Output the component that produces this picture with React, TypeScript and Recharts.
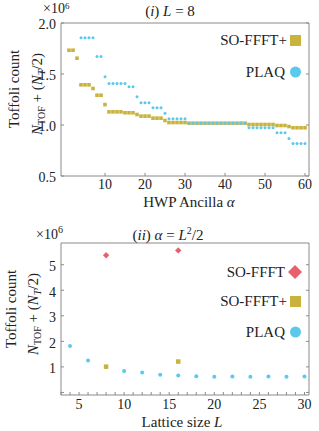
import React from "react";
import { ScatterChart, Scatter, XAxis, YAxis } from "recharts";

// ---------- data: panel (i) L = 8 ----------
const alphaSO = [1,2,3,4,5,6,7,8,9,10,11,12,13,14,15,16,17,18,19,20,21,22,23,24,25,26,27,28,29,30,31,32,33,34,35,36,37,38,39,40,41,42,43,44,45,46,47,48,49,50,51,52,53,54,55,56,57,58,59,60];
const soPlusTop = [1.733,1.733,1.655,1.394,1.394,1.394,1.358,1.292,1.292,1.2,1.129,1.129,1.129,1.129,1.12,1.12,1.12,1.103,1.087,1.087,1.087,1.067,1.067,1.067,1.044,1.024,1.024,1.024,1.024,1.024,1.018,1.018,1.018,1.018,1.018,1.018,1.018,1.018,1.018,1.018,1.018,1.018,1.018,1.018,1.018,1.005,1.005,1.005,1.005,1.005,1.005,1.005,0.995,0.995,0.995,0.985,0.973,0.973,0.973,0.973];
const alphaPlaq = [4,5,6,7,8,9,10,11,12,13,14,15,16,17,18,19,20,21,22,23,24,25,26,27,28,29,30,31,32,33,34,35,36,37,38,39,40,41,42,43,44,45,46,47,48,49,50,51,52,53,54,55,56,57,58,59,60];
const plaqTop = [1.855,1.855,1.855,1.855,1.672,1.672,1.472,1.407,1.407,1.407,1.407,1.407,1.374,1.374,1.276,1.218,1.218,1.218,1.169,1.169,1.169,1.116,1.061,1.061,1.061,1.061,1.061,1.018,1.018,1.018,1.018,1.018,1.018,1.018,1.018,1.018,1.018,1.018,1.018,1.018,1.018,1.018,0.973,0.973,0.973,0.973,0.973,0.973,0.973,0.924,0.924,0.924,0.868,0.819,0.819,0.819,0.819];
const topXTicks = [10, 20, 30, 40, 50, 60];
const topYTicks = [0.5, 1.0, 1.5, 2.0];
const topYLabels = ["0.5", "1.0", "1.5", "2.0"];

// ---------- data: panel (ii) alpha = L^2/2 ----------
const latticeL = [4,6,8,10,12,14,16,18,20,22,24,26,28,30];
const plaqBottom = [1.82,1.25,1.0,0.84,0.78,0.69,0.66,0.63,0.61,0.62,0.61,0.62,0.61,0.62];
const soPlusL = [8, 16];
const soPlusBottom = [1.01, 1.21];
const soL = [8, 16];
const soBottom = [5.37, 5.56];
const botXTicks = [3,4,5,6,7,8,9,10,11,12,13,14,15,16,17,18,19,20,21,22,23,24,25,26,27,28,29,30];
const botXLabelTicks = [5, 10, 15, 20, 25, 30];
const botYTicks = [0, 1, 2, 3, 4, 5];
const botYLabelTicks = [1, 2, 3, 4, 5];

const GOLD = "#c9b33c";
const CYAN = "#5bc9ec";
const RED = "#e8606e";
const FRAME = "#8a8a8a";
const FONT = "Liberation Serif, DejaVu Serif, serif";

const zip = (xs: number[], ys: number[]) => xs.map((x, i) => ({ x, y: ys[i] }));

const Square = (s: number, c: string) => (p: any) =>
  <rect x={p.cx - s / 2} y={p.cy - s / 2} width={s} height={s} fill={c} />;
const Dot = (r: number, c: string) => (p: any) => <circle cx={p.cx} cy={p.cy} r={r} fill={c} />;
const Diamond = (r: number, c: string) => (p: any) =>
  <polygon points={`${p.cx},${p.cy - r} ${p.cx + r},${p.cy} ${p.cx},${p.cy + r} ${p.cx - r},${p.cy}`} fill={c} />;

const txt = { fontFamily: FONT, fill: "#222" };

const makeLeftTick = (labels: Record<string, string>) => (p: any) => {
  const v = p.payload.value;
  const lab = labels[String(v)];
  return (
    <g>
      <line x1={p.x} x2={p.x + 3} y1={p.y} y2={p.y} stroke={FRAME} />
      {lab !== undefined && (
        <text x={p.x - 5} y={p.y} dy="0.45em" textAnchor="end" style={{ ...txt, fontSize: 14 }}>{lab}</text>
      )}
    </g>
  );
};
const RightTick = (p: any) => <line x1={p.x} x2={p.x - 3} y1={p.y} y2={p.y} stroke={FRAME} />;
const TopTick = (p: any) => <line x1={p.x} x2={p.x} y1={p.y} y2={p.y + 3} stroke={FRAME} />;
const makeBottomTick = (labelled: number[], dy: number) => (p: any) => {
  const v = p.payload.value;
  return (
    <g>
      <line x1={p.x} x2={p.x} y1={p.y} y2={p.y - 3} stroke={FRAME} />
      {labelled.includes(v) && (
        <text x={p.x} y={p.y + dy} textAnchor="middle" style={{ ...txt, fontSize: 14 }}>{String(v)}</text>
      )}
    </g>
  );
};

const axisCommon = { type: "number" as const, tickSize: 0, tickMargin: 0, tickLine: false, allowDataOverflow: true, stroke: FRAME, interval: 0 as const };

function TopChart() {
  const yl: Record<string, string> = {};
  topYTicks.forEach((t, i) => (yl[String(t)] = topYLabels[i]));
  return (
    <ScatterChart width={319} height={200} margin={{ top: 22, right: 9, bottom: 23, left: 60 }}>
      <XAxis {...axisCommon} dataKey="x" domain={[-1, 61]} ticks={topXTicks} height={1} tick={makeBottomTick(topXTicks, 13)} />
      <XAxis {...axisCommon} xAxisId="top" orientation="top" domain={[-1, 61]} ticks={topXTicks} height={1} tick={TopTick} />
      <YAxis {...axisCommon} dataKey="y" domain={[0.5, 2.0]} ticks={topYTicks} width={1} tick={makeLeftTick(yl)} />
      <YAxis {...axisCommon} yAxisId="right" orientation="right" domain={[0.5, 2.0]} ticks={topYTicks} width={1} tick={RightTick} />
      <Scatter data={zip(alphaSO, soPlusTop)} dataKey="y" shape={Square(3.6, GOLD)} isAnimationActive={false} />
      <Scatter data={zip(alphaPlaq, plaqTop)} dataKey="y" shape={Dot(1.5, CYAN)} isAnimationActive={false} />
    </ScatterChart>
  );
}

function BottomChart() {
  const yl: Record<string, string> = {};
  botYLabelTicks.forEach((t) => (yl[String(t)] = String(t)));
  return (
    <ScatterChart width={319} height={211} margin={{ top: 22, right: 9, bottom: 35, left: 60 }}>
      <XAxis {...axisCommon} dataKey="x" domain={[3, 30.5]} ticks={botXTicks} height={1} tick={makeBottomTick(botXLabelTicks, 14)} />
      <XAxis {...axisCommon} xAxisId="top" orientation="top" domain={[3, 30.5]} ticks={botXTicks} height={1} tick={TopTick} />
      <YAxis {...axisCommon} dataKey="y" domain={[-0.1, 5.85]} ticks={botYTicks} width={1} tick={makeLeftTick(yl)} />
      <YAxis {...axisCommon} yAxisId="right" orientation="right" domain={[-0.1, 5.85]} ticks={botYTicks} width={1} tick={RightTick} />
      <Scatter data={zip(latticeL, plaqBottom)} dataKey="y" shape={Dot(2, CYAN)} isAnimationActive={false} />
      <Scatter data={zip(soPlusL, soPlusBottom)} dataKey="y" shape={Square(4.5, GOLD)} isAnimationActive={false} />
      <Scatter data={zip(soL, soBottom)} dataKey="y" shape={Diamond(3.2, RED)} isAnimationActive={false} />
    </ScatterChart>
  );
}

const YLabel = ({ cy, x1, x2 }: { cy: number; x1: number; x2: number }) => (
  <g>
    <text transform={`translate(${x1},${cy - 1}) rotate(-90)`} textAnchor="middle" style={{ ...txt, fontSize: 15 }}>Toffoli count</text>
    <text transform={`translate(${x2},${cy + 4}) rotate(-90)`} textAnchor="middle" style={{ ...txt, fontSize: 15 }}>
      <tspan fontStyle="italic">N</tspan>
      <tspan fontSize={10} dy={3}>TOF</tspan>
      <tspan dy={-3}> + (</tspan>
      <tspan fontStyle="italic">N</tspan>
      <tspan fontSize={10} dy={3} fontStyle="italic">T</tspan>
      <tspan dy={-3}>/2)</tspan>
    </text>
  </g>
);

function Overlay() {
  const t15 = { ...txt, fontSize: 15 };
  const t14 = { ...txt, fontSize: 14 };
  return (
    <svg width={319} height={431} style={{ position: "absolute", left: 0, top: 0, pointerEvents: "none" }}>
      {/* panel (i) */}
      <text x={43} y={13} style={t14}>×10<tspan fontSize={9} dy={-4.5}>6</tspan></text>
      <text x={170} y={16} textAnchor="middle" style={t15}>
        (<tspan fontStyle="italic">i</tspan>) <tspan fontStyle="italic">L</tspan> = 8
      </text>
      <YLabel cy={90} x1={19} x2={42} />
      <text x={189} y={207} textAnchor="middle" style={t15}>HWP Ancilla <tspan fontStyle="italic">α</tspan></text>
      <text x={287} y={45} textAnchor="end" style={t15}>SO-FFFT+</text>
      <rect x={290} y={35} width={11} height={11} fill={GOLD} />
      <text x={285} y={77} textAnchor="end" style={t15}>PLAQ</text>
      <circle cx={295.5} cy={72} r={5.5} fill={CYAN} />

      {/* panel (ii) */}
      <text x={36} y={239} style={t14}>×10<tspan fontSize={10} dy={-6}>6</tspan></text>
      <text x={168} y={240} textAnchor="middle" style={t15}>
        (<tspan fontStyle="italic">ii</tspan>) <tspan fontStyle="italic">α</tspan> = <tspan fontStyle="italic">L</tspan><tspan fontSize={10} dy={-6}>2</tspan><tspan dy={6}>/2</tspan>
      </text>
      <YLabel cy={310} x1={16} x2={38} />
      <text x={182} y={427} textAnchor="middle" style={t15}>Lattice size <tspan fontStyle="italic">L</tspan></text>
      <text x={285} y={277} textAnchor="end" style={t15}>SO-FFFT</text>
      <polygon points="295,265 302,272 295,279 288,272" fill={RED} />
      <text x={287} y={306} textAnchor="end" style={t15}>SO-FFFT+</text>
      <rect x={290} y={296} width={11} height={11} fill={GOLD} />
      <text x={285} y={337} textAnchor="end" style={t15}>PLAQ</text>
      <circle cx={295.5} cy={332} r={5.5} fill={CYAN} />
    </svg>
  );
}

export default function App() {
  return (
    <div style={{ position: "fixed", left: 0, top: 0, width: 319, height: 431, background: "#fff" }}>
      <div style={{ position: "absolute", left: 0, top: 0 }}>
        <TopChart />
      </div>
      <div style={{ position: "absolute", left: 0, top: 220 }}>
        <BottomChart />
      </div>
      <Overlay />
    </div>
  );
}
